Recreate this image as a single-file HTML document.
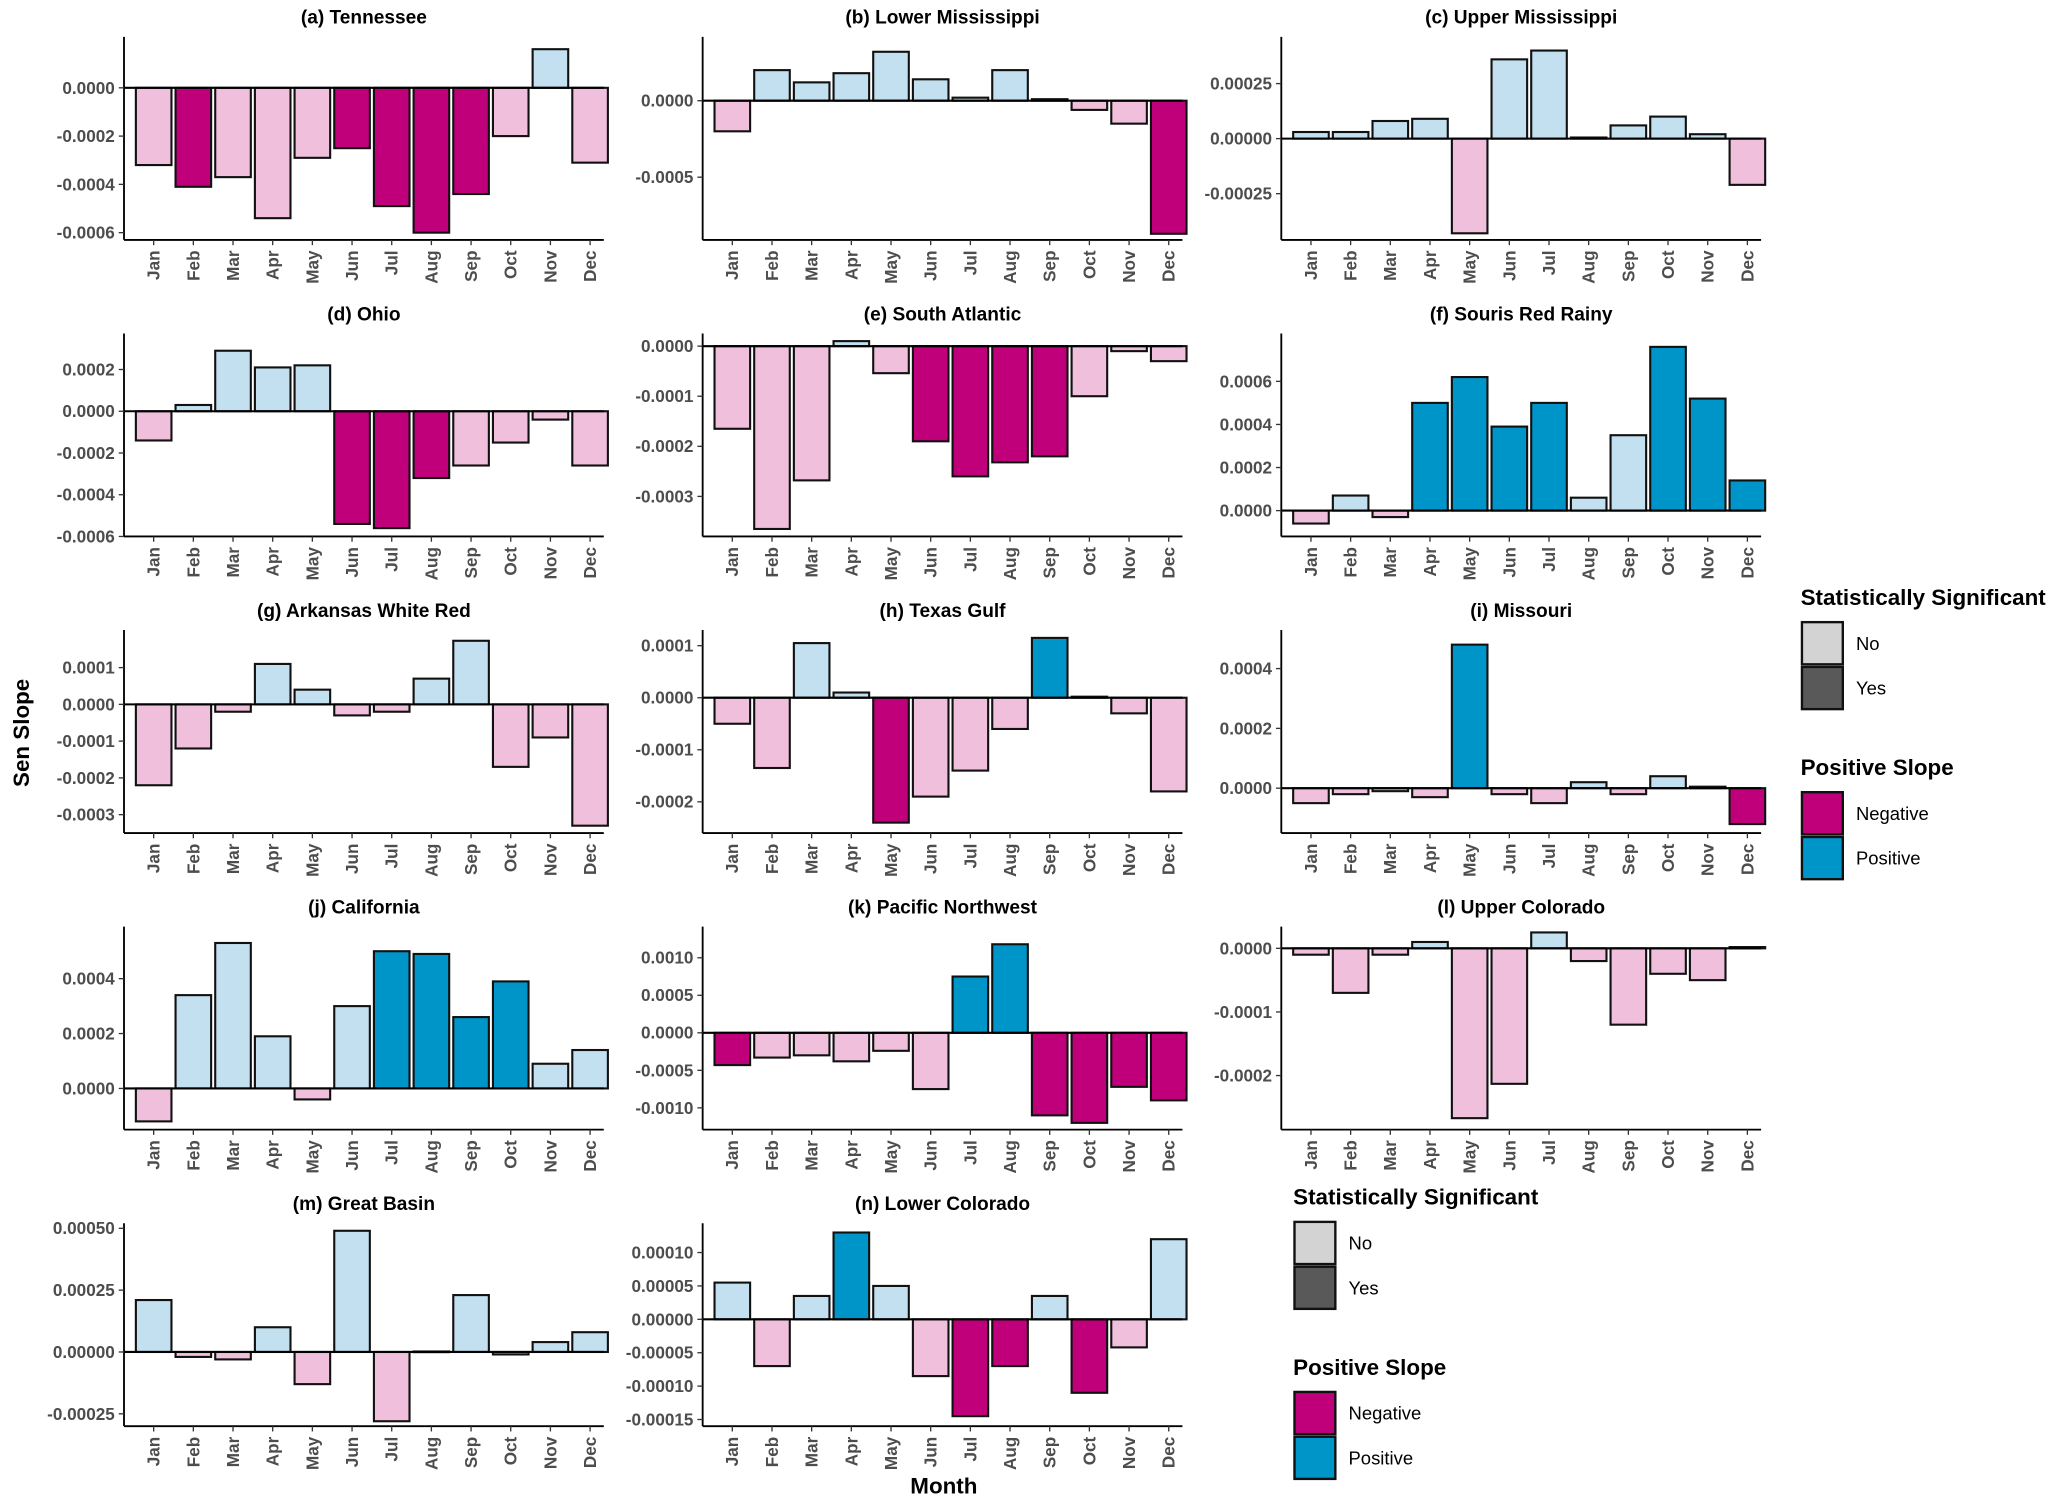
<!DOCTYPE html>
<html><head><meta charset="utf-8"><style>
html,body{margin:0;padding:0;background:#fff;}
svg{display:block;font-family:"Liberation Sans",Arial,sans-serif;}
</style></head><body>
<svg id="chart" width="2067" height="1500" viewBox="0 0 1568 1138" xmlns="http://www.w3.org/2000/svg">
<rect x="0" y="0" width="1568" height="1138" fill="#fff"/>
<text x="22" y="556" transform="rotate(-90 22 556)" text-anchor="middle" font-size="17" font-weight="bold">Sen Slope</text>
<text x="716" y="1133" text-anchor="middle" font-size="17" font-weight="bold">Month</text>
<g id="panels"></g>
<g id="legends"></g>
</svg>
<script>
const months = ["Jan","Feb","Mar","Apr","May","Jun","Jul","Aug","Sep","Oct","Nov","Dec"];
const titles = ["(a) Tennessee","(b) Lower Mississippi","(c) Upper Mississippi","(d) Ohio","(e) South Atlantic","(f) Souris Red Rainy","(g) Arkansas White Red","(h) Texas Gulf","(i) Missouri","(j) California","(k) Pacific Northwest","(l) Upper Colorado","(m) Great Basin","(n) Lower Colorado"];
const valA = [-0.00032,-0.00041,-0.00037,-0.00054,-0.00029,-0.00025,-0.00049,-0.0006,-0.00044,-0.0002,0.00016,-0.00031];
const valB = [-0.0002,0.0002,0.00012,0.00018,0.00032,0.00014,0.00002,0.0002,0.00001,-0.00006,-0.00015,-0.00087];
const valC = [0.00003,0.00003,0.00008,0.00009,-0.00043,0.00036,0.0004,0.000005,0.00006,0.0001,0.00002,-0.00021];
const valD = [-0.00014,0.00003,0.00029,0.00021,0.00022,-0.00054,-0.00056,-0.00032,-0.00026,-0.00015,-0.00004,-0.00026];
const valE = [-0.000165,-0.000365,-0.000268,0.00001,-0.000054,-0.00019,-0.00026,-0.000232,-0.00022,-0.0001,-0.00001,-0.00003];
const valF = [-0.00006,0.00007,-0.00003,0.0005,0.00062,0.00039,0.0005,0.00006,0.00035,0.00076,0.00052,0.00014];
const valG = [-0.00022,-0.00012,-0.00002,0.00011,0.00004,-0.00003,-0.00002,0.00007,0.000173,-0.00017,-0.00009,-0.00033];
const valH = [-0.00005,-0.000135,0.000105,0.00001,-0.00024,-0.00019,-0.00014,-0.00006,0.000115,0.000002,-0.00003,-0.00018];
const valI = [-0.00005,-0.00002,-0.00001,-0.00003,0.00048,-0.00002,-0.00005,0.00002,-0.00002,0.00004,0.000005,-0.00012];
const valJ = [-0.00012,0.00034,0.00053,0.00019,-0.00004,0.0003,0.0005,0.00049,0.00026,0.00039,0.00009,0.00014];
const valK = [-0.00043,-0.00033,-0.0003,-0.00038,-0.00024,-0.00075,0.00075,0.00118,-0.0011,-0.0012,-0.00072,-0.0009];
const valL = [-0.00001,-0.00007,-0.00001,0.00001,-0.000267,-0.000213,0.000025,-0.00002,-0.00012,-0.00004,-0.00005,0.000002];
const valM = [0.00021,-0.00002,-0.00003,0.0001,-0.00013,0.00049,-0.00028,0.000002,0.00023,-0.00001,0.00004,0.00008];
const valN = [0.000055,-0.00007,0.000035,0.00013,0.00005,-0.000085,-0.000145,-0.00007,0.000035,-0.00011,-0.000042,0.00012];
const values = [valA,valB,valC,valD,valE,valF,valG,valH,valI,valJ,valK,valL,valM,valN];
const sigA = [0,1,0,0,0,1,1,1,1,0,0,0];
const sigB = [0,0,0,0,0,0,0,0,0,0,0,1];
const sigC = [0,0,0,0,0,0,0,0,0,0,0,0];
const sigD = [0,0,0,0,0,1,1,1,0,0,0,0];
const sigE = [0,0,0,0,0,1,1,1,1,0,0,0];
const sigF = [0,0,0,1,1,1,1,0,0,1,1,1];
const sigG = [0,0,0,0,0,0,0,0,0,0,0,0];
const sigH = [0,0,0,0,1,0,0,0,1,0,0,0];
const sigI = [0,0,0,0,1,0,0,0,0,0,0,1];
const sigJ = [0,0,0,0,0,0,1,1,1,1,0,0];
const sigK = [1,0,0,0,0,0,1,1,1,1,1,1];
const sigL = [0,0,0,0,0,0,0,0,0,0,0,0];
const sigM = [0,0,0,0,0,0,0,0,0,0,0,0];
const sigN = [0,0,0,1,0,0,1,1,0,1,0,0];
const sigs = [sigA,sigB,sigC,sigD,sigE,sigF,sigG,sigH,sigI,sigJ,sigK,sigL,sigM,sigN];
const ticksA = [0,-0.0002,-0.0004,-0.0006];
const ticksB = [0,-0.0005];
const ticksC = [0.00025,0,-0.00025];
const ticksD = [0.0002,0,-0.0002,-0.0004,-0.0006];
const ticksE = [0,-0.0001,-0.0002,-0.0003];
const ticksF = [0.0006,0.0004,0.0002,0];
const ticksG = [0.0001,0,-0.0001,-0.0002,-0.0003];
const ticksH = [0.0001,0,-0.0001,-0.0002];
const ticksI = [0.0004,0.0002,0];
const ticksJ = [0.0004,0.0002,0];
const ticksK = [0.001,0.0005,0,-0.0005,-0.001];
const ticksL = [0,-0.0001,-0.0002];
const ticksM = [0.0005,0.00025,0,-0.00025];
const ticksN = [0.0001,0.00005,0,-0.00005,-0.0001,-0.00015];
const ticks = [ticksA,ticksB,ticksC,ticksD,ticksE,ticksF,ticksG,ticksH,ticksI,ticksJ,ticksK,ticksL,ticksM,ticksN];
const decimals = [4,4,5,4,4,4,4,4,4,4,4,4,5,5];
const domTop = [0.0002,0.0004,0.00045,0.00036,0.00002,0.00081,0.000195,0.000125,0.00052,0.00058,0.00138,0.00003,0.00051,0.00014];
const domBot = [-0.00063,-0.00091,-0.00046,-0.0006,-0.00038,-0.00012,-0.00035,-0.00026,-0.00015,-0.00015,-0.00129,-0.000285,-0.00030,-0.00016];

const NS="http://www.w3.org/2000/svg";
const colX = [94,533,972];
const rowTop = [30,255,480,705,930];
const plotW = 364, plotH = 152;
const col = {negSig:"#C0007A",negNo:"#F0BFDC",posSig:"#0095C8",posNo:"#C2E0F0"};
function mk(tag,attrs,parent){const e=document.createElementNS(NS,tag);for(const k in attrs)e.setAttribute(k,attrs[k]);parent.appendChild(e);return e;}
const panels=document.getElementById('panels');
values.forEach((vals,p)=>{
  const x0=colX[p%3], y0=rowTop[Math.floor(p/3)];
  const g=mk('g',{},panels);
  
  
  const yS=v=>y0+(domTop[p]-v)/(domTop[p]-domBot[p])*plotH;
  const xS=i=>x0+22.5+i*30.1;
  const t=mk('text',{x:x0+plotW/2,y:y0-12,'text-anchor':'middle','font-size':14.5,'font-weight':'bold'},g);
  t.textContent=titles[p];
  
  
  vals.forEach((v,i)=>{
    const y1=yS(Math.max(v,0)), y2=yS(Math.min(v,0));
    const fill = v<0 ? (sigs[p][i]?col.negSig:col.negNo) : (sigs[p][i]?col.posSig:col.posNo);
    const r=mk('rect',{x:xS(i)-13.5,y:y1,width:27,height:Math.max(y2-y1,0.5),fill:fill,stroke:'#111','stroke-width':1.6},g);
    
    
  });
  mk('line',{x1:x0,x2:x0+plotW,y1:yS(0),y2:yS(0),stroke:'#000','stroke-width':1.6},g);
  mk('line',{x1:x0,x2:x0,y1:y0-2,y2:y0+plotH,stroke:'#000','stroke-width':1.4},g);
  mk('line',{x1:x0,x2:x0+plotW,y1:y0+plotH,y2:y0+plotH,stroke:'#000','stroke-width':1.4},g);
  ticks[p].forEach(tv=>{
    const y=yS(tv);
    mk('line',{x1:x0-4,x2:x0,y1:y,y2:y,stroke:'#333','stroke-width':1},g);
    const tl=mk('text',{x:x0-7,y:y+4.5,'text-anchor':'end','font-size':13,'font-weight':'bold',fill:'#4d4d4d'},g);
    tl.textContent=tv.toFixed(decimals[p]);
    
    
  });
  months.forEach((m,i)=>{
    const x=xS(i), yb=y0+plotH;
    mk('line',{x1:x,x2:x,y1:yb,y2:yb+4,stroke:'#333','stroke-width':1},g);
    const ml=mk('text',{x:x+4.5,y:yb+8,'text-anchor':'end','font-size':13,'font-weight':'bold',fill:'#4d4d4d',transform:`rotate(-90 ${x+4.5} ${yb+8})`},g);
    ml.textContent=m;
    
    
  });
});
const legends=document.getElementById('legends');
function legend(x,y){
  const g=mk('g',{},legends);
  
  
  const items=[["Statistically Significant",0,[["No","#d3d3d3"],["Yes","#595959"]]],["Positive Slope",129,[["Negative","#C0007A"],["Positive","#0095C8"]]]];
  items.forEach(([title,dy,entries])=>{
    const tt=mk('text',{x:x,y:y+dy,'font-size':17,'font-weight':'bold'},g);
    tt.textContent=title;
    
    
    entries.forEach(([lab,c],k)=>{
      const by=y+dy+13+k*34;
      const r=mk('rect',{x:x+1,y:by,width:31,height:32,fill:c,stroke:'#111','stroke-width':1.8},g);
      
      
      const lt=mk('text',{x:x+42,y:by+21,'font-size':14},g);
      lt.textContent=lab;
      
      
    });
  });
}
legend(1366,459);
legend(981,914);
</script>
</body></html>
